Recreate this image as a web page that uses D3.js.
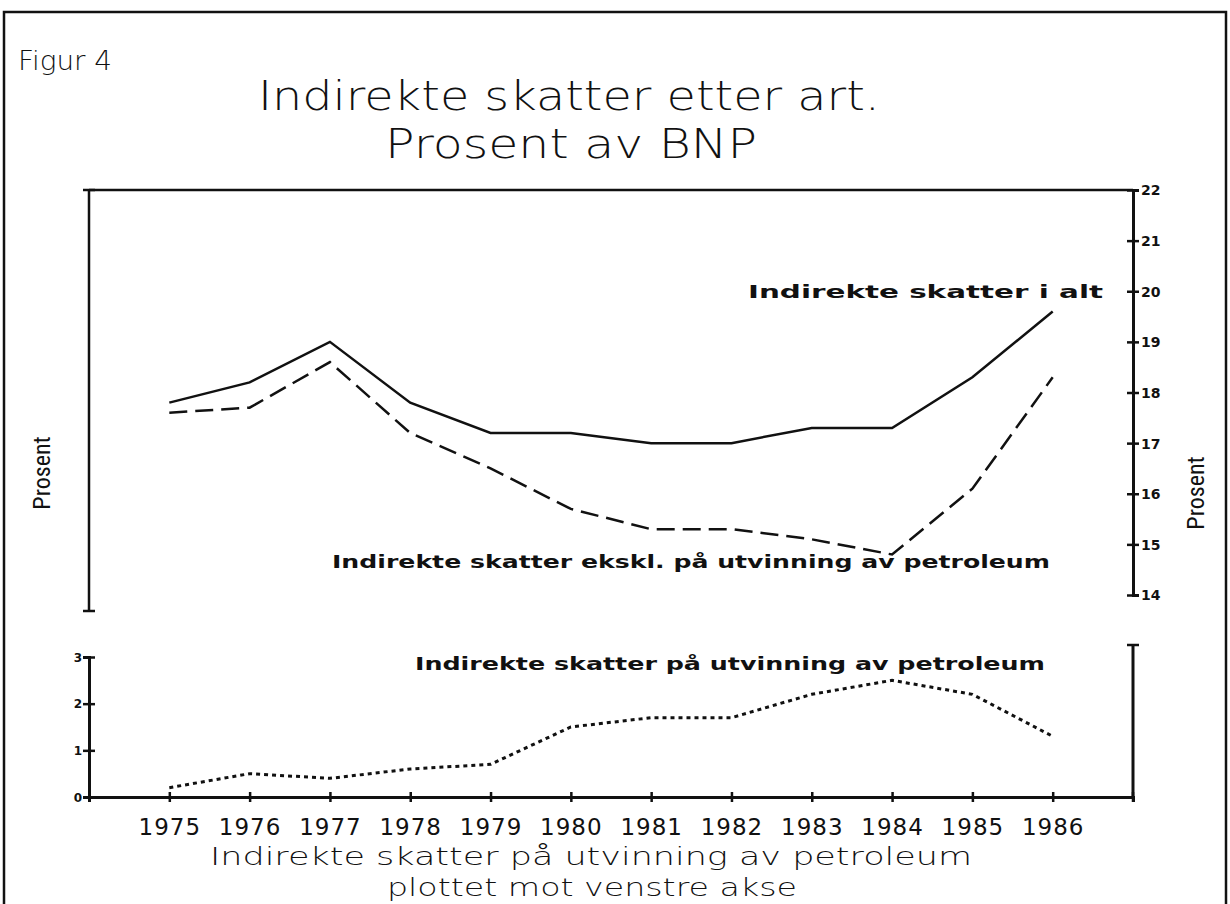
<!DOCTYPE html>
<html>
<head>
<meta charset="utf-8">
<script src="https://cdn.jsdelivr.net/npm/d3@7"></script>
<style>
  body { margin: 0; background: #fff; }
  svg { display: block; }
  .lbl { font-family: "DejaVu Sans", sans-serif; font-weight: bold; fill: #111; }
  .thin { font-family: "DejaVu Sans", sans-serif; font-weight: 200; fill: #111; }
  .cond { font-family: "Liberation Sans Narrow", "Roboto Condensed", sans-serif; fill: #111; }
</style>
</head>
<body>
<div id="chart"></div>
<script>
// Indirekte skatter, prosent av BNP
const years = [1975, 1976, 1977, 1978, 1979, 1980, 1981, 1982, 1983, 1984, 1985, 1986];
const totalTax = [17.8, 18.2, 19.0, 17.8, 17.2, 17.2, 17.0, 17.0, 17.3, 17.3, 18.3, 19.6];
const exPetroleum = [17.6, 17.7, 18.6, 17.2, 16.5, 15.7, 15.3, 15.3, 15.1, 14.8, 16.1, 18.3];
const petroleum = [0.2, 0.5, 0.4, 0.6, 0.7, 1.5, 1.7, 1.7, 2.2, 2.5, 2.2, 1.3];
const rightTicks = [14, 15, 16, 17, 18, 19, 20, 21, 22];
const leftTicks = [0, 1, 2, 3];

const W = 1230, H = 904;
const svg = d3.select('#chart').append('svg')
  .attr('width', W).attr('height', H);

// outer frame
svg.append('rect')
  .attr('x', 4).attr('y', 12).attr('width', 1222).attr('height', 900)
  .attr('fill', 'none').attr('stroke', '#111').attr('stroke-width', 2.5);

// scales
const x = d3.scaleLinear().domain([1974, 1987]).range([89, 1133]);
const yTop = d3.scaleLinear().domain([14, 22]).range([595, 190]);
const yLow = d3.scaleLinear().domain([0, 3]).range([797, 657]);

const ink = '#111';

function hline(x1, x2, y, w) {
  svg.append('line').attr('x1', x1).attr('x2', x2).attr('y1', y).attr('y2', y)
    .attr('stroke', ink).attr('stroke-width', w || 3);
}
function vline(xx, y1, y2, w) {
  svg.append('line').attr('x1', xx).attr('x2', xx).attr('y1', y1).attr('y2', y2)
    .attr('stroke', ink).attr('stroke-width', w || 3);
}

// upper panel frame
hline(x(1974), x(1987), yTop(22), 2.5);
vline(x(1974), yTop(22), 611, 2.5);
hline(x(1974) - 6, x(1974) + 6, 611, 2.5);
hline(x(1974) - 6, x(1974) + 6, yTop(22), 2.5);

// right axis (upper)
const rightAxis = d3.axisRight(yTop).tickValues(rightTicks).tickFormat(d3.format('d')).tickSize(6);
const gr = svg.append('g').attr('transform', `translate(${x(1987)},0)`).call(rightAxis);
gr.select('.domain').attr('stroke', ink).attr('stroke-width', 3);
gr.selectAll('.tick line').attr('x1', -6).attr('x2', 6).attr('stroke', ink).attr('stroke-width', 2.5);
gr.selectAll('.tick text').attr('class', 'lbl').style('font-size', '14px').attr('x', 8).attr('dy', '0.35em');

// lower panel: left axis
const leftAxis = d3.axisLeft(yLow).tickValues(leftTicks).tickFormat(d3.format('d')).tickSize(6);
const gl = svg.append('g').attr('transform', `translate(${x(1974)},0)`).call(leftAxis);
gl.select('.domain').attr('stroke', ink).attr('stroke-width', 3);
gl.selectAll('.tick line').attr('x1', -6).attr('x2', 6).attr('stroke', ink).attr('stroke-width', 2.5);
gl.selectAll('.tick text').attr('class', 'lbl').style('font-size', '12px').attr('x', -7).attr('dy', '0.35em');

// lower panel: right axis stub
vline(x(1987), 645, yLow(0), 3);
hline(x(1987) - 6, x(1987) + 6, 645, 2.5);

// x axis
const xAxis = d3.axisBottom(x).tickValues(years).tickFormat(d3.format('d')).tickSize(5);
const gx = svg.append('g').attr('transform', `translate(0,${yLow(0)})`).call(xAxis);
gx.select('.domain').attr('stroke', ink).attr('stroke-width', 3);
gx.selectAll('.tick line').attr('y1', -5).attr('y2', 5).attr('stroke', ink).attr('stroke-width', 2.5);
gx.selectAll('.tick text').attr('class', 'thin')
  .style('font-size', '23px').style('font-weight', 'normal').style('letter-spacing', '1px')
  .attr('y', 38).attr('dy', 0);
vline(x(1987), yLow(0) - 5, yLow(0) + 5, 2.5);

// series
const lineTop = d3.line().x((d, i) => x(years[i])).y(d => yTop(d));
const lineLow = d3.line().x((d, i) => x(years[i])).y(d => yLow(d));

svg.append('path').datum(totalTax).attr('d', lineTop)
  .attr('fill', 'none').attr('stroke', ink).attr('stroke-width', 2.5);
svg.append('path').datum(exPetroleum).attr('d', lineTop)
  .attr('fill', 'none').attr('stroke', ink).attr('stroke-width', 2.5)
  .attr('stroke-dasharray', '18,8');
svg.append('path').datum(petroleum).attr('d', lineLow)
  .attr('fill', 'none').attr('stroke', ink).attr('stroke-width', 3)
  .attr('stroke-dasharray', '4,4');

// text helper
function txt(s, xx, yy, cls, size, len, anchor) {
  const t = svg.append('text').attr('x', xx).attr('y', yy).attr('class', cls)
    .style('font-size', size + 'px').text(s);
  if (len) t.attr('textLength', len).attr('lengthAdjust', 'spacingAndGlyphs');
  if (anchor) t.attr('text-anchor', anchor);
  return t;
}

// titles
txt('Figur 4', 18, 70, 'thin', 26, 94);
txt('Indirekte skatter etter art.', 258, 110, 'thin', 40, 622);
txt('Prosent av BNP', 385, 158, 'thin', 40, 372);

// series labels
txt('Indirekte skatter i alt', 748, 298, 'lbl', 18, 355);
txt('Indirekte skatter ekskl. på utvinning av petroleum', 332, 568, 'lbl', 18, 718);
txt('Indirekte skatter på utvinning av petroleum', 415, 670, 'lbl', 18, 630);

// axis titles
svg.append('text').attr('class', 'cond').style('font-size', '24px')
  .attr('transform', 'translate(50,473) rotate(-90)').attr('text-anchor', 'middle').text('Prosent');
svg.append('text').attr('class', 'cond').style('font-size', '24px')
  .attr('transform', 'translate(1204,493) rotate(-90)').attr('text-anchor', 'middle').text('Prosent');

// bottom notes
txt('Indirekte skatter på utvinning av petroleum', 210, 865, 'thin', 25, 762);
txt('plottet mot venstre akse', 387, 896, 'thin', 24, 410);
</script>
</body>
</html>
